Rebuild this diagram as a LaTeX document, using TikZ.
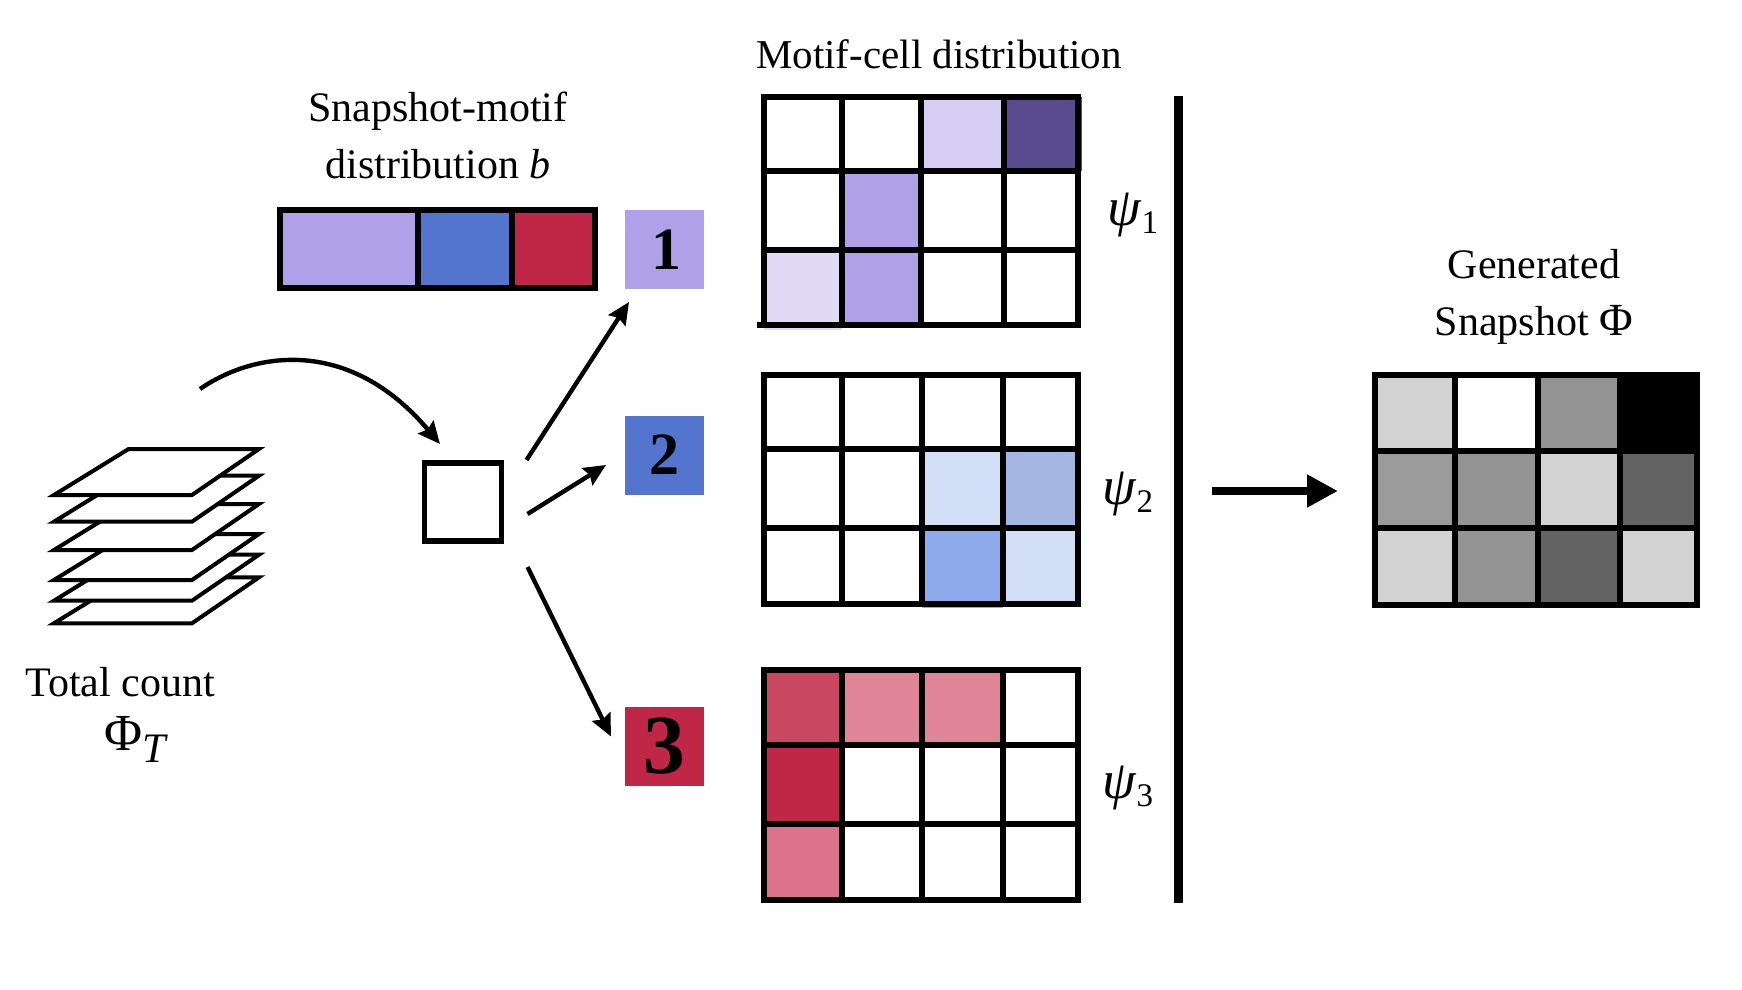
\documentclass[tikz,border=0pt]{standalone}
\usepackage{fontspec}
\setmainfont{Liberation Serif}
\newfontfamily\numfont{Liberation Serif}
\usetikzlibrary{arrows.meta,calc}
\definecolor{violetA}{HTML}{B0A0E8}
\definecolor{violetB}{HTML}{D5CDF2}
\definecolor{violetC}{HTML}{5A4B8E}
\definecolor{violetD}{HTML}{E0DAF7}
\definecolor{blueA}{HTML}{5475CE}
\definecolor{blueB}{HTML}{D3DFF7}
\definecolor{blueC}{HTML}{A5B6E3}
\definecolor{blueD}{HTML}{8DABEA}
\definecolor{redA}{HTML}{C02646}
\definecolor{redB}{HTML}{CA4762}
\definecolor{redC}{HTML}{DF8597}
\definecolor{redD}{HTML}{DB748A}
\definecolor{grayA}{HTML}{D3D3D3}
\definecolor{grayB}{HTML}{939393}
\definecolor{grayC}{HTML}{636363}
\definecolor{grayD}{HTML}{9B9B9B}
\newcommand{\labelfont}{\fontsize{21}{28.5}\selectfont}
\newcommand{\psilabel}[1]{{\fontsize{27}{27}\selectfont\itshape ψ}\raisebox{-4pt}{\fontsize{16.5}{16.5}\selectfont #1}}
\newcommand{\gridlines}[2]{%
  \foreach \gx in {#1} {\draw[gridline] (\gx,\gridtop) -- (\gx,\gridbot);}
  \foreach \gy in {#2} {\draw[gridline] (\gridleft,\gy) -- (\gridright,\gy);}
}
\tikzset{
  gridline/.style={line width=2.6pt,line cap=rect,black},
  motif/.style={minimum width=39.5pt,minimum height=39.5pt,inner sep=0pt,outer sep=0pt,text=black},
  motifnum/.style={font=\numfont\bfseries\fontsize{30}{30}\selectfont},
  cellbox/.style={draw=black,line width=2.6pt,fill=white,minimum width=38.5pt,minimum height=39pt,inner sep=0pt,outer sep=0pt},
  sheet/.style={draw=black,fill=white,line width=2pt,line join=miter},
  connector/.style={line width=2.2pt,-{Stealth[length=11pt,width=10pt,inset=1.5pt]}},
  bigarrow/.style={line width=4pt,-{Triangle[length=15.5pt,width=15.5pt]}},
  divider/.style={line width=4.5pt},
  caption/.style={font=\labelfont,align=center,text=black,inner sep=0pt},
  psinode/.style={anchor=base,inner sep=0pt,text=black},
  barcell/.style={line width=2.6pt,draw=black},
}
\begin{document}
\begin{tikzpicture}[x=0.5pt,y=-0.5pt]
\useasboundingbox (0,0) rectangle (1742,990);
\fill[white] (0,0) rectangle (1742,990);

% stacked snapshots
\foreach \b in {623.3,600.7,580,550,521.7,495} {
  \pgfmathsetmacro{\t}{\b-46}
  \draw[sheet] (54,\b) -- (128.6,\t) -- (259,\t) -- (192,\b) -- cycle;
}
\node[caption,anchor=base] (total) at (120,696) {Total count};
\node[anchor=base,inner sep=0pt] (phit) at (135,750) {{\numfont\fontsize{26}{26}\selectfont Φ}\raisebox{-6pt}{\numfont\itshape\fontsize{21}{21}\selectfont T}};

% snapshot-motif bar
\node[caption] (snaptitle) at (438,135) {Snapshot-motif\\distribution {\itshape b}};
\fill[violetA] (280,210) rectangle (418,288);
\fill[blueA] (418,210) rectangle (512,288);
\fill[redA] (512,210) rectangle (595,288);
\draw[barcell] (280,210) rectangle (595,288);
\draw[barcell] (418,210) -- (418,288);
\draw[barcell] (512,210) -- (512,288);

% motif squares
\node[motif,fill=violetA,motifnum] (m1) at (664.5,249.5) {\hspace{2pt}\raisebox{-1pt}{1}};
\node[motif,fill=blueA,motifnum] (m2) at (664.5,455) {2};
\node[motif,fill=redA,motifnum,font=\numfont\bfseries\fontsize{42}{42}\selectfont] (m3) at (664.5,746.5) {3};
\node[cellbox] (cell) at (463,502) {};

% connectors
\coordinate (curvestart) at (200,389);
\draw[connector] (curvestart) .. controls (255,351) and (350,337) .. ([shift={(-23,-19)}]cell.north);
\draw[connector] ([shift={(25,-3)}]cell.north east) -- ([shift={(4,13)}]m1.south west);
\draw[connector] ([shift={(26,12)}]cell.east) -- ([shift={(-19,10)}]m2.west);
\draw[connector] ([shift={(26,26)}]cell.south east) -- ([shift={(-14,-10)}]m3.west);

% motif-cell title and grid 1
\node[caption,anchor=base,font=\fontsize{20.5}{28}\selectfont] (motiftitle) at (939,68.5) {Motif-cell distribution};
\fill[violetB] (921,94) rectangle (1004,171);
\fill[violetC] (1004,97) rectangle (1082,171);
\fill[violetA] (842,171) rectangle (921,250);
\fill[violetD] (764,250) rectangle (842,330);
\fill[violetA] (842,250) rectangle (921,325);
\def\gridtop{97}\def\gridbot{325}\def\gridleft{764}\def\gridright{1078}
\gridlines{764,842,921,1004,1078}{97,171,250,325}
\draw[gridline,line cap=butt] (757,325) -- (764,325);
\node[psinode] (psi1) at (1133,226) {\psilabel{1}};

% grid 2
\fill[blueB] (922,449) rectangle (1003,528);
\fill[blueC] (1003,449) rectangle (1078,528);
\fill[blueD] (922,528) rectangle (1003,608);
\fill[blueB] (1003,528) rectangle (1078,604);
\def\gridtop{375}\def\gridbot{604}\def\gridleft{764}\def\gridright{1078}
\gridlines{764,842,922,1003,1078}{375,449,528,604}
\node[psinode] (psi2) at (1128,504) {\psilabel{2}};

% grid 3
\fill[redB] (764,670) rectangle (842,745);
\fill[redC] (842,670) rectangle (1003,745);
\fill[redA] (764,745) rectangle (842,824);
\fill[redD] (764,824) rectangle (842,903);
\def\gridtop{670}\def\gridbot{900}\def\gridleft{764}\def\gridright{1078}
\gridlines{764,842,922,1003,1078}{670,745,824,900}
\node[psinode] (psi3) at (1128,798) {\psilabel{3}};

% divider
\coordinate (divtop) at (1178,96);
\coordinate (divbot) at (1178,903);
\draw[divider] (divtop) -- (divbot);

% big arrow
\coordinate (bigstart) at (1212,491);
\coordinate (bigend) at (1338,491);
\draw[bigarrow] (bigstart) -- (bigend);

% generated snapshot
\node[caption] (gentitle) at (1534,297) {Generated\\Snapshot {\fontsize{23}{28.5}\selectfont Φ}};
\fill[grayA] (1375,375) rectangle (1455,451);
\fill[grayB] (1538,375) rectangle (1620,451);
\fill[black] (1620,375) rectangle (1697,451);
\fill[grayD] (1375,451) rectangle (1455,528);
\fill[grayB] (1455,451) rectangle (1538,528);
\fill[grayA] (1538,451) rectangle (1620,528);
\fill[grayC] (1620,451) rectangle (1697,528);
\fill[grayA] (1375,528) rectangle (1455,605);
\fill[grayB] (1455,528) rectangle (1538,605);
\fill[grayC] (1538,528) rectangle (1620,605);
\fill[grayA] (1620,528) rectangle (1697,605);
\def\gridtop{375}\def\gridbot{605}\def\gridleft{1375}\def\gridright{1697}
\gridlines{1375,1455,1538,1620,1697}{375,451,528,605}
\end{tikzpicture}
\end{document}
